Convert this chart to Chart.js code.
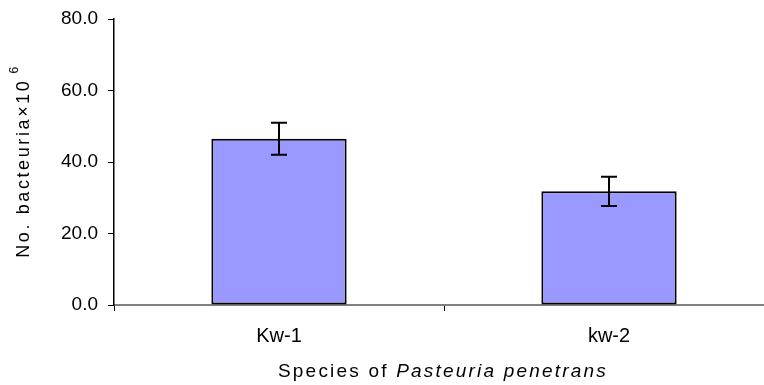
<!DOCTYPE html>
<html>
<head>
<meta charset="utf-8">
<script src="https://cdn.jsdelivr.net/npm/chart.js@4"></script>
<style>
  html, body { margin: 0; padding: 0; background: #fff; overflow: hidden; }
  #wrap { width: 784px; height: 385px; }
</style>
</head>
<body>
<div id="wrap"><canvas id="chart" width="784" height="385"></canvas></div>
<script>
const categories = ['Kw-1', 'kw-2'];
const counts = [46.5, 31.8];
const errors = [4.5, 4.1];
const yTicks = [0, 20, 40, 60, 80];

const FONT = 'Liberation Sans, Arial, sans-serif';

// error bars drawn from the scale
const errorBars = {
  id: 'errorBars',
  afterDatasetsDraw(chart) {
    const { ctx, scales: { x, y } } = chart;
    ctx.save();
    ctx.strokeStyle = '#000';
    ctx.lineWidth = 2;
    counts.forEach((v, i) => {
      const cx = x.getPixelForValue(i);
      const top = y.getPixelForValue(v + errors[i]);
      const bot = y.getPixelForValue(v - errors[i]);
      ctx.beginPath();
      ctx.moveTo(cx, top); ctx.lineTo(cx, bot);
      ctx.moveTo(cx - 8, top); ctx.lineTo(cx + 8, top);
      ctx.moveTo(cx - 8, bot); ctx.lineTo(cx + 8, bot);
      ctx.stroke();
    });
    ctx.restore();
  }
};

// titles with mixed styles (italic species name, superscript exponent)
const titles = {
  id: 'titles',
  afterDraw(chart) {
    const ctx = chart.ctx;
    ctx.save();
    ctx.fillStyle = '#000';
    ctx.textBaseline = 'alphabetic';
    // x title
    const parts = [
      { t: 'Species of ', f: '19px ' + FONT },
      { t: 'Pasteuria penetrans', f: 'italic 19px ' + FONT }
    ];
    ctx.letterSpacing = '2.2px';
    let w = 0;
    parts.forEach(p => { ctx.font = p.f; w += ctx.measureText(p.t).width; });
    let xx = 443 - w / 2;
    parts.forEach(p => { ctx.font = p.f; ctx.fillText(p.t, xx, 377); xx += ctx.measureText(p.t).width; });
    // y title
    ctx.letterSpacing = '2.6px';
    ctx.translate(29, 0);
    ctx.rotate(-Math.PI / 2);
    ctx.font = '18px ' + FONT;
    const main = 'No. bacteuria\u00d710';
    const mw = ctx.measureText(main).width;
    ctx.font = '12px ' + FONT;
    const sw = ctx.measureText('6').width + 5;
    const start = -(161 + (mw + sw) / 2);
    ctx.font = '18px ' + FONT;
    ctx.fillText(main, start, 0);
    ctx.font = '12px ' + FONT;
    ctx.fillText('6', start + mw + 5, -11);
    ctx.restore();
  }
};

new Chart(document.getElementById('chart'), {
  type: 'bar',
  data: {
    labels: categories,
    datasets: [{
      data: counts,
      backgroundColor: '#9999FF',
      borderColor: '#000',
      borderWidth: 2,
      borderSkipped: false,
      categoryPercentage: 1,
      barPercentage: 0.41
    }]
  },
  options: {
    responsive: false,
    animation: false,
    layout: { padding: { top: 19, right: 10, left: 0, bottom: 0 } },
    plugins: { legend: { display: false }, tooltip: { enabled: false } },
    scales: {
      x: {
        offset: true,
        border: { color: '#808080', width: 2 },
        grid: { offset: true, drawOnChartArea: false, tickLength: 6, color: '#000', lineWidth: 1 },
        ticks: { color: '#000', font: { family: FONT, size: 20 }, padding: 13 },
        afterFit(s) { s.height = 80; }
      },
      y: {
        min: 0, max: 80,
        afterBuildTicks(s) { s.ticks = yTicks.map(v => ({ value: v })); },
        border: { color: '#000', width: 1.5 },
        grid: { drawOnChartArea: false, tickLength: 6, color: '#000' },
        ticks: { color: '#000', font: { family: FONT, size: 19 }, padding: 10,
                 callback: v => v.toFixed(1) },
        afterFit(s) { s.width = 114; s.paddingTop = 0; s.paddingBottom = 0; }
      }
    }
  },
  plugins: [errorBars, titles]
});
</script>
</body>
</html>
